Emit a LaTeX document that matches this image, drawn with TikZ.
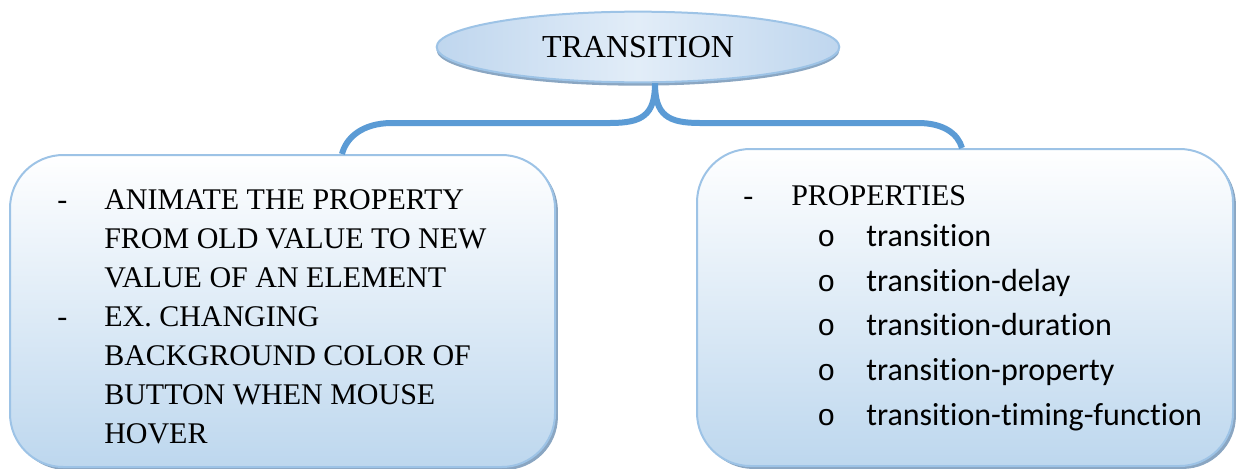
\documentclass[tikz,border=0pt]{standalone}
\usepackage{fontspec}
\setmainfont{Liberation Serif}
\newfontfamily\calfont[RawFeature={-liga;-clig;-dlig;-calt}]{Carlito}
\newfontfamily\monofont{Liberation Mono}
\usetikzlibrary{shapes.geometric,shadows,calc}
\definecolor{connc}{HTML}{5B9BD5}
\definecolor{edgec}{HTML}{9DC3E6}
\definecolor{boxbot}{HTML}{BDD7EE}
\definecolor{shadc}{HTML}{8AA6C2}
\definecolor{ellmid}{HTML}{E2EDF8}
\definecolor{ellside}{HTML}{BFD6EE}
\begin{document}
\begin{tikzpicture}[x=0.75pt,y=-0.75pt,
  box/.style={rectangle, rounded corners=40pt, draw=edgec, line width=1.5pt,
    top color=white, bottom color=boxbot, inner sep=0pt,
    drop shadow={shadow xshift=2.2pt, shadow yshift=-2.2pt, fill=shadc, opacity=1}},
  topell/.style={ellipse, draw=edgec, line width=1.5pt, inner sep=0pt,
    left color=ellside, right color=ellside, middle color=ellmid,
    minimum width=302pt, minimum height=53pt,
    drop shadow={shadow xshift=0pt, shadow yshift=-2.5pt, fill=shadc, opacity=1},
    font=\fontsize{24}{29}\selectfont},
  connector/.style={draw=connc, line width=4.5pt},
  sertext/.style={anchor=base west, inner sep=0pt, font=\fontsize{22.5}{27}\selectfont},
  caltext/.style={anchor=base west, inner sep=0pt, font=\calfont\fontsize{24}{29}\selectfont},
  bullet/.style={anchor=base west, inner sep=0pt, font=\monofont\fontsize{22.5}{27}\selectfont}
]
\useasboundingbox (0,0) rectangle (1237,468);

% boxes
\node[box, minimum width=408.75pt, minimum height=234pt] (L) at (282.5,311) {};
\node[box, minimum width=402pt, minimum height=237.75pt] (R) at (965,307.5) {};

% ellipse
\node[topell] (E) at (638,47) {TRANSITION};

% connectors
\coordinate (stem) at ($(E.south)+(17,0)$);
\coordinate (la) at ($(L.north west)+(333,0)$);
\coordinate (ra) at ($(R.north west)+(266,0)$);
\draw[connector] (stem) .. controls ($(stem)+(0,32)$) and (642,123) .. (610,123)
  -- (392,123) .. controls (362,123) and (346,138) .. (la);
\draw[connector] (stem) .. controls ($(stem)+(0,32)$) and (668,123) .. (700,123)
  -- (918,123) .. controls (944,123) and (958,134) .. (ra);

% left text
\node[sertext] (ld1) at (57,209) {-};
\node[sertext] (lt1) at (104,209) {ANIMATE THE PROPERTY};
\node[sertext] (lt2) at (104,248) {FROM OLD VALUE TO NEW};
\node[sertext] (lt3) at (104,287) {VALUE OF AN ELEMENT};
\node[sertext] (ld2) at (57,326) {-};
\node[sertext] (lt4) at (104,326) {EX. CHANGING};
\node[sertext] (lt5) at (104,365) {BACKGROUND COLOR OF};
\node[sertext] (lt6) at (104,404) {BUTTON WHEN MOUSE};
\node[sertext] (lt7) at (104,443) {HOVER};

% right text
\node[sertext] (rd1) at (743,205) {-};
\node[sertext] (rt0) at (791,205) {PROPERTIES};
\node[bullet] (rb1) at (817,246) {o};
\node[caltext] (rt1) at (866,246) {transition};
\node[bullet] (rb2) at (817,291) {o};
\node[caltext] (rt2) at (866,291) {transition-delay};
\node[bullet] (rb3) at (817,335) {o};
\node[caltext] (rt3) at (866,335) {transition-duration};
\node[bullet] (rb4) at (817,380) {o};
\node[caltext] (rt4) at (866,380) {transition-property};
\node[bullet] (rb5) at (817,425) {o};
\node[caltext] (rt5) at (866,425) {transition-timing-function};
\end{tikzpicture}
\end{document}
